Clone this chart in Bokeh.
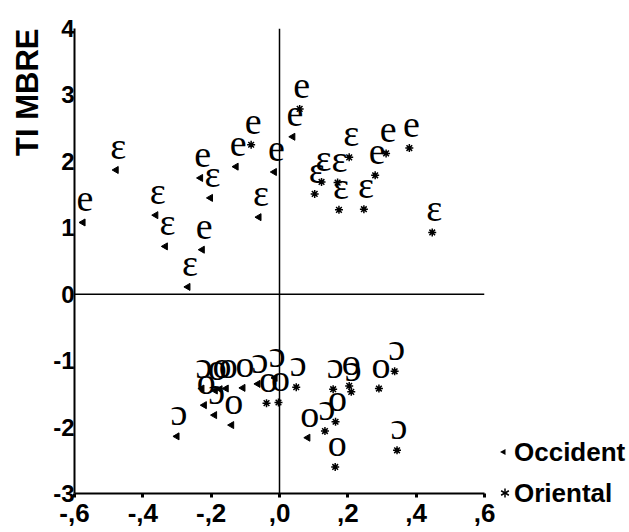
import math
from bokeh.plotting import figure
from bokeh.layouts import row
from bokeh.models import Span, FixedTicker, LabelSet, ColumnDataSource, Title, Div
from bokeh.embed import file_html
from bokeh.resources import INLINE

# ---- data ----
occ_x = [-0.575, -0.478, -0.362, -0.334, -0.268, -0.226, -0.231, -0.202, -0.127, -0.060, -0.015, 0.039,
         -0.227, -0.188, -0.174, -0.156, -0.107, -0.063, -0.013, -0.220, -0.190, -0.140, -0.300, 0.083]
occ_y = [1.08, 1.87, 1.19, 0.72, 0.11, 0.67, 1.75, 1.45, 1.92, 1.16, 1.84, 2.37,
         -1.42, -1.45, -1.43, -1.42, -1.41, -1.35, -1.26, -1.67, -1.82, -1.97, -2.14, -2.16]
occ_lab = ["e", "ɛ", "ɛ", "ɛ", "ɛ", "e", "e", "ɛ", "e", "ɛ", "e", "e",
           "ɔ", "o", "o", "o", "o", "ɔ", "ɔ", "o", "ɔ", "o", "ɔ", "o"]

ori_x = [-0.083, 0.059, 0.312, 0.280, 0.380, 0.204, 0.103, 0.123, 0.170, 0.174, 0.247, 0.447,
         -0.038, -0.003, 0.049, 0.157, 0.204, 0.210, 0.291, 0.337, 0.164, 0.133, 0.163, 0.344]
ori_y = [2.25, 2.79, 2.12, 1.79, 2.20, 2.06, 1.51, 1.69, 1.68, 1.27, 1.28, 0.93,
         -1.64, -1.63, -1.40, -1.43, -1.38, -1.47, -1.42, -1.16, -1.92, -2.06, -2.60, -2.35]
ori_lab = ["e", "e", "e", "e", "e", "ɛ", "ɛ", "ɛ", "ɛ", "ɛ", "ɛ", "ɛ",
           "o", "o", "ɔ", "ɔ", "o", "ɔ", "o", "ɔ", "o", "ɔ", "o", "ɔ"]

series_names = ["Occident", "Oriental"]
x_ticks = [-0.6, -0.4, -0.2, 0.0, 0.2, 0.4, 0.6]
x_tick_labels = ["-,6", "-,4", "-,2", ",0", ",2", ",4", ",6"]
y_ticks = [-3, -2, -1, 0, 1, 2, 3, 4]
y_tick_labels = ["-3", "-2", "-1", "0", "1", "2", "3", "4"]
y_title = "TI MBRE"

H = 528
PW = 495
sans = "Liberation Sans"

# ---- main figure ----
p = figure(width=PW, height=H, x_range=(-0.6, 0.6), y_range=(-3, 4),
           output_backend="svg", toolbar_location=None,
           min_border_left=74, min_border_top=28, min_border_right=11, min_border_bottom=35)
p.outline_line_color = None
p.grid.visible = False
p.background_fill_color = "white"

p.xaxis.ticker = FixedTicker(ticks=x_ticks)
p.xaxis.major_label_overrides = {t: l for t, l in zip(x_ticks, x_tick_labels)}
p.xaxis.major_label_text_font = sans
p.xaxis.major_label_text_font_size = "26px"
p.xaxis.major_label_text_font_style = "bold"
p.xaxis.major_label_text_color = "black"
p.xaxis.axis_line_width = 2
p.xaxis.axis_line_color = "black"
p.xaxis.major_tick_in = 0
p.xaxis.major_tick_out = 4
p.xaxis.major_tick_line_width = 3
p.xaxis.minor_tick_line_color = None
p.xaxis.major_label_standoff = 6

p.yaxis.ticker = FixedTicker(ticks=y_ticks)
p.yaxis.major_label_overrides = {t: l for t, l in zip(y_ticks, y_tick_labels)}
p.yaxis.major_label_text_font = sans
p.yaxis.major_label_text_font_size = "24px"
p.yaxis.major_label_text_font_style = "bold"
p.yaxis.major_label_text_color = "black"
p.yaxis.axis_line_width = 2
p.yaxis.axis_line_color = "black"
p.yaxis.major_tick_in = 0
p.yaxis.major_tick_out = 0
p.yaxis.minor_tick_line_color = None
p.yaxis.major_label_standoff = 0

p.add_layout(Title(text=y_title, align="right", text_font=sans, text_font_size="31px",
                   text_font_style="bold", text_color="black", standoff=12), "left")

p.add_layout(Span(location=0, dimension="height", line_color="black", line_width=1.5))
p.add_layout(Span(location=0, dimension="width", line_color="black", line_width=1.5))

p.scatter(occ_x, occ_y, marker="triangle", angle=math.pi / 2, size=7,
          fill_color="black", line_color="black")
p.scatter(ori_x, ori_y, marker="asterisk", size=8, line_width=1.5, line_color="black")

src_occ = ColumnDataSource(dict(x=occ_x, y=occ_y, lab=occ_lab))
src_ori = ColumnDataSource(dict(x=ori_x, y=ori_y, lab=ori_lab))
for src in (src_occ, src_ori):
    p.add_layout(LabelSet(x="x", y="y", text="lab", source=src,
                          text_font="Liberation Serif", text_font_size="38px",
                          text_align="center", text_baseline="alphabetic",
                          x_offset=2, y_offset=11, text_color="black"))

# ---- legend block to the right of the frame ----
LW = 625 - PW
r1, r2 = 447, 488          # row centres inside the block (px from top)
mx = 3                     # marker centre x
d = 4.5
c60, s60 = math.cos(math.radians(60)) * d, math.sin(math.radians(60)) * d
ax = mx + 2
legend_html = f"""
<div style="position:relative;width:{LW}px;height:{H}px;font-family:'{sans}',Arial,sans-serif;
font-size:26px;font-weight:bold;line-height:26px;color:#000;">
<svg width="{LW}" height="{H}" style="position:absolute;left:0;top:0;">
<polygon points="{mx-3},{r1} {mx+2.5},{r1-3} {mx+2.5},{r1+3}" fill="black"/>
<g stroke="black" stroke-width="1.5">
<line x1="{ax}" y1="{r2-d}" x2="{ax}" y2="{r2+d}"/>
<line x1="{ax-s60:.2f}" y1="{r2-c60:.2f}" x2="{ax+s60:.2f}" y2="{r2+c60:.2f}"/>
<line x1="{ax-s60:.2f}" y1="{r2+c60:.2f}" x2="{ax+s60:.2f}" y2="{r2-c60:.2f}"/>
</g>
</svg>
<span style="position:absolute;left:14px;top:{r1-13}px;white-space:nowrap;">{series_names[0]}</span>
<span style="position:absolute;left:14px;top:{r2-13}px;white-space:nowrap;">{series_names[1]}</span>
</div>
"""
legend_div = Div(text=legend_html, width=LW, height=H)

layout = row(p, legend_div)
open("out.html", "w").write(file_html(layout, INLINE))
